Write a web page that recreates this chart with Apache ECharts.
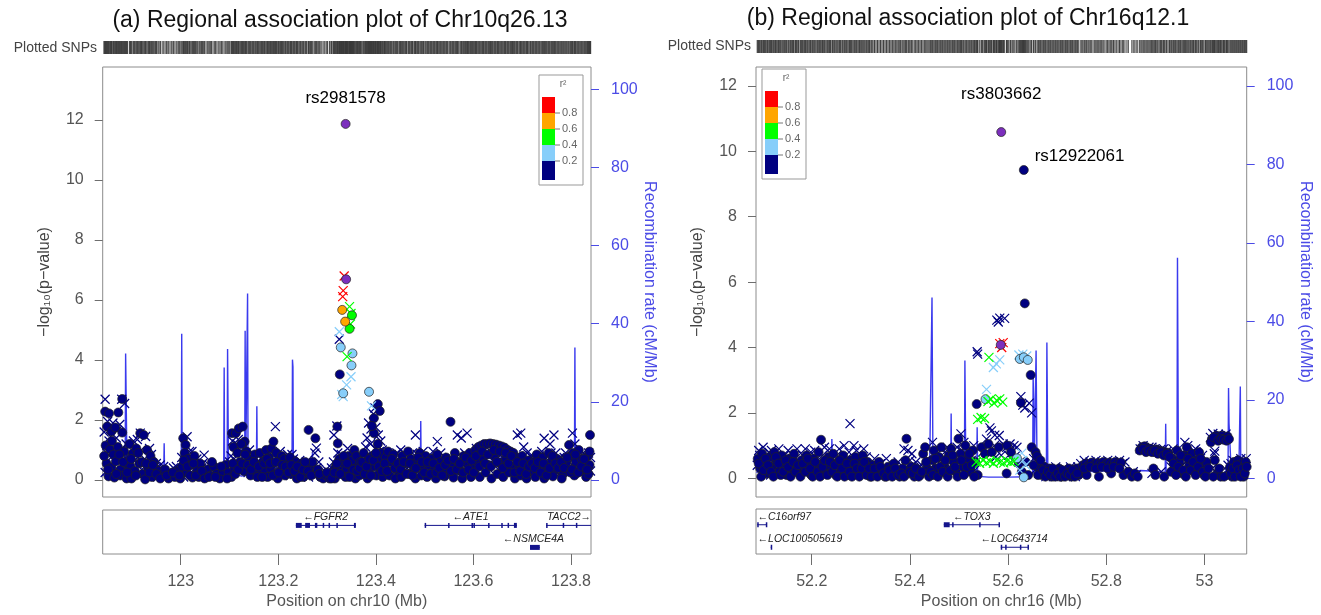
<!DOCTYPE html>
<html>
<head>
<meta charset="utf-8">
<title>Regional association plots</title>
<script src="https://cdn.jsdelivr.net/npm/echarts@6/dist/echarts.min.js"></script>
<style>
  html, body { margin: 0; padding: 0; background: #fff; }
  #chart { width: 1321px; height: 615px; }
</style>
</head>
<body>
<div id="chart"></div>
<script>
// ---- shared scales / legend ----
var r2Colors = ['#000080', '#87CEFA', '#00FF00', '#FFA500', '#FF0000'];   // 0-0.2 ... 0.8-1
var r2TickLabels = ['0.2', '0.4', '0.6', '0.8'];
var pTicks = [0, 2, 4, 6, 8, 10, 12];
var rateTicks = [0, 20, 40, 60, 80, 100];

// ---- (a) chr10 ----
var chr10Range = [122.84, 123.841];
var chr10Ticks = [123, 123.2, 123.4, 123.6, 123.8];
var chr10Lead = [[123.338, 11.87], [123.339, 6.69]];
var chr10LeadNames = ['rs2981578', ''];
var chr10RedX = [[123.335, 6.80], [123.333, 6.31], [123.332, 6.11]];
var chr10OrangeC = [[123.331, 5.67], [123.337, 5.28]];
var chr10GreenC = [[123.351, 5.49], [123.346, 5.04]];
var chr10GreenX = [[123.346, 5.78], [123.349, 5.55], [123.341, 4.11], [123.348, 5.2]];
var chr10BlueC = [[123.328, 4.42], [123.352, 4.22], [123.350, 3.82], [123.333, 2.89], [123.386, 2.94]];
var chr10BlueX = [[123.325, 4.94], [123.349, 3.44], [123.340, 3.17], [123.333, 2.78], [123.391, 2.47], [123.330, 2.85]];
var chr10NavyC = [
  [122.845,2.28],[122.853,2.22],[122.872,2.25],[122.849,1.78],[122.858,1.62],[122.866,1.75],[122.880,1.58],[122.846,1.15],[122.855,1.02],[122.862,0.85],[122.871,1.1],[122.884,0.95],[122.848,0.55],[122.858,0.42],[122.867,0.62],[122.877,0.35],[122.887,0.55],[122.852,0.12],[122.864,0.08],[122.876,0.15],[122.889,0.05],[122.880,2.7],
  [122.895,1.2],[122.902,0.9],[122.909,1.05],[122.917,1.56],[122.924,1.5],[122.931,1.0],[122.938,0.8],[122.945,0.6],[122.897,0.45],[122.906,0.3],[122.915,0.55],[122.922,0.2],[122.933,0.4],[122.941,0.1],[122.948,0.35],[122.899,0.05],[122.927,0.02],
  [122.955,0.3],[122.962,0.15],[122.968,0.35],[122.975,0.05],[122.981,0.2],[122.988,0.1],[122.994,0.3],[122.999,0.05],
  [123.005,1.39],[123.010,1.17],[123.008,0.9],[123.015,0.7],[123.021,0.5],[123.028,0.8],[123.034,0.3],[123.040,0.55],[123.046,0.2],[123.012,0.25],[123.024,0.08],[123.037,0.1],[123.003,0.45],
  [123.055,0.35],[123.061,0.15],[123.068,0.45],[123.074,0.2],[123.080,0.05],[123.086,0.3],[123.092,0.5],[123.098,0.25],[123.064,0.6],
  [123.105,1.56],[123.113,1.56],[123.119,1.72],[123.127,1.78],[123.131,1.28],[123.108,1.1],[123.116,0.9],[123.124,1.2],[123.135,0.95],[123.140,0.7],[123.146,0.5],[123.152,0.85],[123.110,0.4],[123.121,0.6],[123.129,0.3],[123.143,0.15],[123.155,0.3],[123.104,0.1],
  [123.162,0.9],[123.168,0.6],[123.175,1.0],[123.181,0.75],[123.186,1.05],[123.190,1.28],[123.196,0.9],[123.202,0.6],[123.207,0.8],[123.165,0.25],[123.172,0.35],[123.178,0.1],[123.184,0.4],[123.193,0.2],[123.199,0.05],[123.205,0.3],
  [123.212,0.7],[123.218,0.5],[123.224,0.75],[123.230,0.45],[123.236,0.6],[123.242,0.3],[123.248,0.55],[123.214,0.15],[123.226,0.2],[123.238,0.05],[123.252,0.1],[123.258,0.25],[123.264,0.4],[123.262,1.67],[123.276,1.39],[123.270,0.6],
  [123.281,0.35],[123.286,0.1],[123.292,0.05],[123.298,0.15],[123.305,0.05],[123.312,0.2],[123.318,0.45],[123.321,1.78],[123.322,1.22],[123.325,0.7],[123.316,0.05],[123.330,0.3],[123.326,3.52],
  [123.335,0.55],[123.340,0.35],[123.344,0.8],[123.348,0.5],[123.352,0.65],[123.356,1.0],[123.360,0.8],[123.364,0.45],[123.368,0.6],[123.338,0.1],[123.350,0.2],[123.358,0.05],[123.366,0.15],
  [123.396,2.06],[123.396,1.56],[123.404,2.53],[123.408,2.3],[123.392,1.8],[123.404,1.2],[123.375,0.9],[123.380,0.6],[123.386,0.3],[123.392,0.8],[123.398,0.45],[123.404,0.7],[123.410,0.9],[123.416,0.5],[123.420,0.75],[123.383,0.05],[123.401,0.15],[123.414,0.1],
  [123.425,0.95],[123.430,0.6],[123.436,0.85],[123.442,0.4],[123.448,0.2],[123.454,0.8],[123.460,0.55],[123.466,0.95],[123.472,0.7],[123.478,0.35],[123.484,0.6],[123.490,0.9],[123.496,0.45],[123.428,0.15],[123.440,0.05],[123.452,0.1],[123.469,0.2],[123.481,0.05],[123.493,0.15],
  [123.502,0.8],[123.508,0.5],[123.514,0.7],[123.520,0.35],[123.526,0.85],[123.532,0.6],[123.538,0.3],[123.544,0.75],[123.553,1.94],[123.556,0.5],[123.562,0.9],[123.568,0.6],[123.574,0.3],[123.580,0.8],[123.586,0.55],[123.592,0.9],[123.598,0.4],[123.505,0.1],[123.523,0.05],[123.541,0.12],[123.559,0.08],[123.577,0.05],[123.595,0.1],
  [123.604,1.0],[123.610,1.1],[123.616,1.15],[123.622,1.2],[123.628,1.2],[123.634,1.22],[123.640,1.2],[123.646,1.18],[123.652,1.15],[123.658,1.12],[123.664,1.08],[123.670,1.0],[123.676,0.95],[123.682,0.9],[123.607,0.6],[123.619,0.75],[123.631,0.5],[123.643,0.8],[123.655,0.55],[123.667,0.7],[123.679,0.45],[123.688,0.75],[123.694,0.5],[123.700,0.8],[123.706,0.4],[123.712,0.65],[123.718,0.3],[123.613,0.1],[123.625,0.25],[123.637,0.05],[123.649,0.2],[123.661,0.1],[123.673,0.25],[123.685,0.05],[123.697,0.15],[123.709,0.05],
  [123.724,0.6],[123.730,0.85],[123.736,0.5],[123.742,0.75],[123.748,0.35],[123.754,0.9],[123.760,0.6],[123.766,0.3],[123.772,0.7],[123.778,0.45],[123.784,0.2],[123.790,0.55],[123.796,1.17],[123.798,0.8],[123.727,0.1],[123.745,0.05],[123.763,0.12],[123.781,0.05],
  [123.804,0.9],[123.810,0.6],[123.816,1.0],[123.822,0.7],[123.828,0.4],[123.834,0.8],[123.839,1.5],[123.838,0.5],[123.807,0.15],[123.819,0.3],[123.831,0.1],[123.836,0.2],
  [122.843,0.8],[122.851,0.35],[122.859,1.3],[122.868,0.2],[122.874,0.85],[122.882,0.6],[122.890,0.25],[122.898,0.7],[122.908,0.15],[122.913,0.9],[122.920,0.6],[122.929,0.55],[122.936,0.25],[122.943,0.5],[122.950,0.2],[122.958,0.05],[122.971,0.15],[122.984,0.25],[122.997,0.15],
  [123.006,0.65],[123.014,0.45],[123.019,0.15],[123.026,0.55],[123.031,0.15],[123.043,0.3],[123.049,0.05],[123.058,0.1],[123.071,0.1],[123.083,0.45],[123.095,0.05],
  [123.107,0.55],[123.112,0.2],[123.118,0.35],[123.126,0.55],[123.132,0.85],[123.138,0.5],[123.144,0.35],[123.150,0.6],[123.157,0.1],
  [123.160,0.45],[123.167,0.1],[123.171,0.55],[123.177,0.7],[123.183,0.55],[123.189,0.15],[123.195,0.6],[123.201,0.25],[123.208,0.5],
  [123.215,0.45],[123.221,0.25],[123.227,0.5],[123.233,0.3],[123.239,0.45],[123.245,0.1],[123.251,0.35],[123.255,0.6],[123.261,0.3],[123.267,0.15],
  [123.284,0.2],[123.300,0.25],[123.309,0.05],[123.315,0.25],[123.320,0.55],[123.327,0.2],
  [123.334,0.8],[123.341,0.55],[123.346,0.1],[123.354,0.35],[123.362,0.3],[123.367,0.4],
  [123.372,0.6],[123.377,0.2],[123.381,0.45],[123.387,0.7],[123.390,0.15],[123.395,0.65],[123.400,0.9],[123.406,0.45],[123.412,0.3],[123.418,0.55],
  [123.423,0.3],[123.433,0.7],[123.439,0.4],[123.445,0.55],[123.451,0.35],[123.457,0.6],[123.463,0.2],[123.470,0.55],[123.475,0.15],[123.482,0.4],[123.487,0.75],[123.494,0.6],[123.499,0.25],
  [123.506,0.6],[123.512,0.2],[123.518,0.55],[123.524,0.25],[123.530,0.4],[123.536,0.15],[123.542,0.5],[123.548,0.65],[123.554,0.3],[123.560,0.7],[123.566,0.35],[123.572,0.55],[123.579,0.25],[123.584,0.75],[123.590,0.35],[123.596,0.65],
  [123.601,0.25],[123.605,0.8],[123.612,0.45],[123.618,0.95],[123.624,0.55],[123.630,0.85],[123.636,0.45],[123.642,1.0],[123.648,0.6],[123.654,0.95],[123.660,0.4],[123.666,0.9],[123.672,0.55],[123.678,0.8],[123.684,0.25],[123.690,0.6],[123.696,0.3],[123.702,0.55],[123.708,0.2],[123.714,0.45],[123.720,0.55],
  [123.726,0.4],[123.732,0.6],[123.738,0.25],[123.744,0.55],[123.750,0.15],[123.756,0.4],[123.762,0.8],[123.768,0.55],[123.774,0.4],[123.780,0.6],[123.786,0.4],[123.792,0.75],[123.799,0.25],
  [123.802,0.35],[123.809,0.85],[123.815,0.25],[123.821,0.45],[123.827,0.7],[123.833,0.35],[123.838,0.95]
];
var chr10NavyX = [
  [122.845,2.69],[122.879,2.69],[122.885,2.55],[122.850,1.95],[122.861,1.9],[122.875,1.85],[122.868,1.4],[122.853,1.3],[122.888,1.2],[122.857,0.75],[122.873,0.6],[122.883,0.3],[122.845,0.25],
  [122.917,1.56],[122.928,1.45],[122.903,1.3],[122.912,0.75],[122.936,1.05],[122.943,0.3],[122.920,0.35],[122.950,0.55],
  [122.958,0.5],[122.972,0.25],[122.985,0.4],[122.996,0.2],
  [123.013,1.44],[123.018,0.95],[123.030,0.55],[123.043,0.4],[123.006,0.1],[123.048,0.83],
  [123.058,0.5],[123.070,0.3],[123.083,0.15],[123.095,0.4],
  [123.106,1.3],[123.118,1.35],[123.114,0.45],[123.125,0.95],[123.133,0.6],[123.138,0.25],[123.149,0.8],[123.157,0.6],
  [123.163,0.5],[123.170,0.8],[123.177,0.45],[123.183,0.2],[123.194,1.78],[123.189,0.65],[123.197,0.35],[123.204,0.95],[123.209,0.15],
  [123.216,0.3],[123.222,0.55],[123.228,0.85],[123.234,0.2],[123.240,0.5],[123.246,0.25],[123.255,0.45],[123.266,0.2],
  [123.278,1.06],[123.275,0.9],[123.283,0.6],[123.289,0.25],[123.301,0.3],[123.309,0.4],[123.314,1.5],[123.320,1.8],[123.325,4.69],[123.322,0.9],[123.328,0.5],
  [123.337,0.75],[123.346,0.3],[123.354,0.85],[123.362,0.6],[123.369,0.35],[123.342,1.05],
  [123.385,1.9],[123.390,1.7],[123.395,2.2],[123.400,1.75],[123.405,1.5],[123.398,2.4],[123.410,1.3],[123.382,1.4],[123.378,0.75],[123.388,0.5],[123.407,0.95],[123.418,0.4],
  [123.423,0.7],[123.433,0.45],[123.445,0.7],[123.451,1.0],[123.458,0.3],[123.463,0.7],[123.475,0.9],[123.481,1.5],[123.487,0.3],[123.498,0.7],
  [123.511,0.4],[123.517,0.95],[123.526,1.28],[123.529,0.2],[123.535,0.75],[123.547,0.45],[123.565,0.75],[123.567,1.5],[123.575,1.4],[123.587,1.56],[123.583,0.3],[123.589,0.65],
  [123.601,0.8],[123.606,1.05],[123.620,0.95],[123.635,0.95],[123.650,0.9],[123.665,0.85],[123.680,0.75],[123.690,1.5],[123.697,1.56],[123.703,1.1],[123.710,0.9],[123.716,0.5],
  [123.721,0.8],[123.733,0.3],[123.740,0.95],[123.745,1.39],[123.751,0.6],[123.757,1.2],[123.765,1.5],[123.769,0.9],[123.775,0.2],[123.786,0.75],[123.792,0.35],
  [123.803,1.56],[123.808,1.2],[123.813,0.4],[123.825,0.9],[123.833,0.6],[123.840,0.3],
  [122.843,1.6],[122.848,0.9],[122.856,1.45],[122.863,0.3],[122.870,1.65],[122.878,1.0],[122.886,0.75],[122.891,0.4],[122.896,0.85],[122.905,0.65],[122.911,1.35],[122.919,1.0],[122.926,0.7],[122.934,0.2],[122.940,0.85],[122.947,0.15],[122.953,0.1],[122.965,0.45],[122.978,0.3],[122.991,0.45],
  [123.002,0.75],[123.009,0.5],[123.017,0.3],[123.023,0.95],[123.027,0.35],[123.033,0.7],[123.039,0.25],[123.045,0.55],[123.052,0.2],[123.063,0.35],[123.077,0.4],[123.089,0.2],[123.100,0.6],
  [123.103,0.8],[123.109,0.7],[123.115,1.2],[123.122,0.35],[123.128,1.05],[123.134,0.4],[123.141,1.0],[123.147,0.25],[123.153,0.45],[123.159,0.2],
  [123.166,0.7],[123.173,0.2],[123.180,0.95],[123.187,0.35],[123.192,0.5],[123.200,0.75],[123.206,0.45],
  [123.211,0.35],[123.219,0.85],[123.225,0.4],[123.231,0.7],[123.237,0.35],[123.244,0.65],[123.250,0.35],[123.257,0.6],[123.262,0.1],[123.268,0.35],
  [123.273,0.15],[123.279,0.4],[123.295,0.3],[123.306,0.2],[123.313,0.6],[123.317,0.3],[123.324,0.15],[123.329,0.85],
  [123.333,0.45],[123.339,0.6],[123.343,0.15],[123.349,0.7],[123.353,0.4],[123.357,0.55],[123.361,0.25],[123.365,0.85],[123.370,0.5],
  [123.374,0.35],[123.379,1.1],[123.384,0.8],[123.389,1.2],[123.393,0.55],[123.399,1.05],[123.403,0.3],[123.409,0.6],[123.413,1.0],[123.417,0.75],[123.421,0.25],
  [123.426,0.45],[123.431,0.85],[123.437,0.25],[123.443,0.9],[123.449,0.5],[123.455,0.35],[123.461,0.85],[123.467,0.45],[123.473,0.25],[123.479,0.65],[123.485,0.85],[123.491,0.4],[123.497,0.95],
  [123.503,0.35],[123.509,0.75],[123.515,0.25],[123.521,0.65],[123.527,0.4],[123.533,0.9],[123.539,0.55],[123.545,0.25],[123.551,0.7],[123.557,0.3],[123.563,0.45],[123.569,0.2],[123.576,0.6],[123.582,0.9],[123.588,0.25],[123.594,0.6],[123.599,0.75],
  [123.603,0.4],[123.609,0.85],[123.615,0.45],[123.621,0.6],[123.627,0.9],[123.633,0.35],[123.639,0.65],[123.645,0.45],[123.651,0.75],[123.657,0.35],[123.663,0.6],[123.669,0.4],[123.675,0.65],[123.681,0.3],[123.687,0.55],[123.693,0.8],[123.699,0.35],[123.705,0.65],[123.711,0.25],[123.717,0.8],
  [123.723,0.35],[123.729,0.55],[123.735,0.8],[123.741,0.25],[123.747,0.6],[123.753,0.4],[123.759,0.9],[123.765,0.5],[123.771,0.4],[123.777,0.75],[123.783,0.5],[123.789,0.9],[123.795,0.4],[123.801,0.65],
  [123.806,0.45],[123.812,0.8],[123.818,0.6],[123.824,0.25],[123.830,0.65],[123.836,0.9],[123.840,0.75]
];
var chr10Recomb = [
  [122.840,1.2],[122.850,1.5],[122.860,1.0],[122.870,1.3],[122.880,2.0],[122.886,2.0],[122.887,32.4],[122.889,32.4],[122.890,1.5],[122.900,1.0],[122.915,0.8],[122.930,1.2],[122.945,0.6],[122.960,0.8],[122.965,1.0],[122.966,9.4],[122.967,1.0],[122.980,0.5],[122.995,0.6],[123.001,0.8],[123.002,37.4],[123.003,0.8],[123.020,1.0],[123.040,0.9],[123.060,0.5],[123.080,0.8],[123.088,1.0],[123.089,28.8],[123.090,1.0],[123.095,1.2],[123.096,33.5],[123.097,33.5],[123.098,1.2],[123.110,1.5],[123.125,1.0],[123.131,1.2],[123.132,38.2],[123.133,1.5],[123.136,1.5],[123.137,47.7],[123.138,1.5],[123.145,1.0],[123.155,1.0],[123.156,18.9],[123.157,1.0],[123.175,1.2],[123.200,0.8],[123.220,1.0],[123.228,1.0],[123.229,30.8],[123.230,29.0],[123.231,1.0],[123.245,0.8],[123.260,1.0],[123.268,1.5],[123.270,6.9],[123.272,1.0],[123.290,0.8],[123.310,1.0],[123.325,0.5],[123.335,0.8],[123.340,1.2],[123.345,0.8],[123.350,4.5],[123.352,1.0],[123.358,0.8],[123.362,3.0],[123.365,0.5],[123.380,0.3],[123.400,0.5],[123.420,0.8],[123.450,1.0],[123.480,0.8],[123.491,1.0],[123.492,15.1],[123.493,1.0],[123.520,0.8],[123.550,1.0],[123.580,0.8],[123.600,1.2],[123.630,1.0],[123.660,1.5],[123.700,1.0],[123.740,1.2],[123.780,1.0],[123.800,1.5],[123.807,1.5],[123.808,33.9],[123.809,1.5],[123.820,1.2],[123.841,1.0]
];
var chr10Genes = [
  {name: 'FGFR2', start: 123.236, end: 123.359, row: 0, strand: -1, labelAt: 123.297,
   exons: [[123.236,123.248],[123.255,123.265],[123.275,123.280],[123.291,123.292],[123.303,123.304],[123.319,123.320],[123.355,123.359]]},
  {name: 'ATE1', start: 123.500, end: 123.689, row: 0, strand: -1, labelAt: 123.594,
   exons: [[123.500,123.5015],[123.548,123.5495],[123.596,123.5975],[123.600,123.6015],[123.630,123.6315],[123.657,123.6585],[123.670,123.6715],[123.683,123.689]]},
  {name: 'TACC2', start: 123.749, end: 123.841, row: 0, strand: 1, labelAt: 123.796,
   exons: [[123.749,123.7505],[123.783,123.7845],[123.810,123.8115]]},
  {name: 'NSMCE4A', start: 123.716, end: 123.736, row: 1, strand: -1, labelAt: 123.723,
   exons: [[123.716,123.736]]}
];

// ---- (b) chr16 ----
var chr16Range = [52.0865, 53.086];
var chr16Ticks = [52.2, 52.4, 52.6, 52.8, 53];
var chr16Lead = [[52.586, 10.59], [52.585, 4.08]];
var chr16LeadNames = ['rs3803662', ''];
var chr16Second = [[52.632, 9.43]];
var chr16SecondNames = ['rs12922061'];
var chr16RedX = [[52.583, 4.12], [52.587, 4.0], [52.590, 4.15]];
var chr16GreenX = [
  [52.561,3.7],[52.559,2.35],[52.565,2.42],[52.571,2.3],[52.577,2.38],[52.583,2.43],[52.589,2.33],[52.538,1.8],[52.545,1.86],[52.552,1.83],
  [52.535,0.5],[52.542,0.46],[52.549,0.55],[52.556,0.48],[52.563,0.52],[52.570,0.46],[52.577,0.54],[52.584,0.5],[52.591,0.47],[52.598,0.53],[52.605,0.49],[52.612,0.52]
];
var chr16BlueC = [[52.624,3.65],[52.632,3.7],[52.640,3.62],[52.554,2.42],[52.618,0.61],[52.632,0.03]];
var chr16BlueX = [[52.583,3.62],[52.570,3.39],[52.576,3.5],[52.622,3.77],[52.630,3.8],[52.638,3.74],[52.556,2.72],[52.628,0.77],[52.624,0.25],[52.636,0.4],[52.630,0.55]];
var chr16NavyC = [
  [52.090,0.6],[52.095,0.3],[52.099,0.75],[52.104,0.45],[52.109,0.15],[52.114,0.65],[52.119,0.35],[52.124,0.8],[52.129,0.5],[52.134,0.2],[52.139,0.7],[52.144,0.4],[52.149,0.1],[52.154,0.6],[52.159,0.3],[52.164,0.75],[52.169,0.45],[52.174,0.15],[52.179,0.55],[52.184,0.3],[52.189,0.7],[52.194,0.4],[52.199,0.1],[52.204,0.6],
  [52.209,0.35],[52.214,0.8],[52.219,1.18],[52.224,0.5],[52.229,0.2],[52.234,0.65],[52.239,0.35],[52.244,0.75],[52.249,0.1],[52.254,0.5],[52.259,0.25],[52.264,0.7],[52.269,0.4],[52.274,0.1],[52.279,0.55],[52.284,0.3],[52.289,0.65],[52.294,0.15],[52.299,0.45],[52.304,0.7],[52.309,0.25],[52.314,0.5],[52.319,0.05],
  [52.325,0.4],[52.331,0.15],[52.337,0.5],[52.343,0.25],[52.349,0.05],[52.355,0.35],[52.361,0.15],[52.367,0.45],[52.373,0.2],[52.379,0.05],
  [52.393,1.21],[52.391,0.55],[52.385,0.3],[52.397,0.15],[52.403,0.35],[52.409,0.05],[52.415,0.25],[52.421,0.1],[52.427,0.75],[52.431,0.95],[52.435,0.3],[52.439,0.05],
  [52.444,0.55],[52.449,0.85],[52.454,0.3],[52.459,0.65],[52.464,0.95],[52.469,0.4],[52.474,0.15],[52.479,0.7],[52.484,0.9],[52.489,0.5],[52.494,0.2],[52.499,1.21],[52.503,0.75],[52.508,0.35],[52.513,1.0],[52.518,0.6],[52.523,0.2],[52.528,0.85],[52.533,0.5],[52.536,2.27],[52.538,0.1],
  [52.546,0.95],[52.553,0.75],[52.560,1.05],[52.567,0.8],[52.581,0.95],[52.597,0.15],[52.598,1.0],[52.606,0.8],[52.626,2.31],[52.646,3.16],[52.634,5.35],[52.622,0.45],[52.628,0.2],[52.636,0.5],[52.641,0.1],
  [52.648,0.95],[52.656,0.8],[52.659,0.68],[52.664,0.3],[52.669,0.1],[52.674,0.35],[52.679,0.15],[52.684,0.3],[52.689,0.05],[52.694,0.25],[52.699,0.1],[52.704,0.3],[52.709,0.05],[52.714,0.2],[52.719,0.1],[52.724,0.3],[52.729,0.05],[52.734,0.2],[52.739,0.3],[52.744,0.1],
  [52.752,0.4],[52.758,0.45],[52.764,0.4],[52.770,0.48],[52.776,0.42],[52.782,0.47],[52.788,0.45],[52.794,0.5],[52.800,0.44],[52.806,0.48],[52.812,0.45],[52.818,0.5],[52.824,0.46],[52.830,0.48],[52.760,0.1],[52.785,0.05],[52.810,0.15],[52.835,0.1],
  [52.845,0.2],[52.852,0.05],[52.858,0.15],[52.864,0.05],[52.872,0.95],[52.878,0.98],[52.884,0.92],[52.890,0.9],[52.896,0.3],[52.902,0.88],[52.908,0.85],[52.914,0.82],[52.920,0.8],[52.926,0.78],[52.900,0.1],[52.918,0.05],
  [52.934,0.6],[52.939,0.3],[52.944,0.85],[52.949,0.5],[52.954,0.15],[52.959,0.7],[52.964,0.95],[52.969,0.4],[52.974,0.75],[52.979,0.2],[52.984,0.55],[52.989,0.8],[52.994,0.35],[52.999,0.1],[53.004,0.5],
  [53.015,1.2],[53.021,0.55],[53.025,1.3],[53.030,1.25],[53.036,1.3],[53.042,1.22],[53.047,1.28],[53.026,0.15],[53.033,0.05],
  [53.052,0.35],[53.056,0.05],[53.060,0.5],[53.064,0.2],[53.068,0.55],[53.072,0.1],[53.076,0.45],[53.080,0.05],[53.084,0.5],
  [52.092,0.45],[52.097,0.05],[52.102,0.25],[52.106,0.6],[52.111,0.4],[52.117,0.2],[52.122,0.05],[52.127,0.65],[52.132,0.45],[52.137,0.1],[52.142,0.2],[52.147,0.55],[52.152,0.35],[52.157,0.05],[52.162,0.5],[52.167,0.2],[52.172,0.4],[52.177,0.05],[52.182,0.45],[52.187,0.2],[52.192,0.6],[52.197,0.3],[52.202,0.05],
  [52.207,0.5],[52.212,0.2],[52.217,0.05],[52.222,0.35],[52.227,0.55],[52.232,0.1],[52.237,0.5],[52.242,0.2],[52.247,0.4],[52.252,0.05],[52.257,0.55],[52.262,0.3],[52.267,0.05],[52.272,0.45],[52.277,0.2],[52.282,0.05],[52.287,0.45],[52.292,0.3],[52.297,0.05],[52.302,0.3],[52.307,0.5],[52.312,0.1],[52.317,0.3],
  [52.322,0.05],[52.328,0.3],[52.334,0.05],[52.340,0.35],[52.346,0.15],[52.352,0.05],[52.358,0.25],[52.364,0.05],[52.370,0.3],[52.376,0.1],
  [52.382,0.15],[52.388,0.05],[52.400,0.2],[52.406,0.15],[52.412,0.3],[52.418,0.05],[52.424,0.2],[52.433,0.5],[52.442,0.2],
  [52.447,0.1],[52.452,0.6],[52.457,0.05],[52.462,0.35],[52.467,0.2],[52.472,0.55],[52.477,0.05],[52.482,0.25],[52.487,0.7],[52.492,0.35],[52.497,0.05],[52.505,0.55],[52.510,0.1],[52.516,0.35],[52.521,0.75],[52.526,0.4],[52.531,0.05],
  [52.652,0.4],[52.661,0.1],[52.666,0.55],[52.671,0.25],[52.676,0.05],[52.681,0.2],[52.686,0.1],[52.691,0.3],[52.696,0.05],[52.701,0.15],[52.706,0.05],[52.711,0.25],[52.716,0.05],[52.721,0.15],[52.726,0.1],[52.731,0.25],[52.736,0.05],[52.741,0.15],
  [52.755,0.3],[52.767,0.35],[52.779,0.3],[52.791,0.35],[52.803,0.3],[52.815,0.35],[52.827,0.3],
  [52.868,0.85],[52.875,0.9],[52.881,0.8],[52.887,0.85],[52.893,0.8],[52.899,0.85],[52.905,0.75],[52.911,0.8],[52.917,0.7],[52.923,0.75],[52.929,0.65],
  [52.932,0.2],[52.937,0.45],[52.942,0.1],[52.947,0.35],[52.952,0.7],[52.957,0.25],[52.962,0.05],[52.967,0.6],[52.972,0.25],[52.977,0.5],[52.982,0.1],[52.987,0.35],[52.992,0.6],[52.997,0.2],[53.002,0.05],[53.008,0.3],
  [53.013,1.1],[53.019,1.25],[53.028,1.15],[53.034,1.2],[53.039,1.18],[53.045,1.15],[53.050,1.2],[53.018,0.05],[53.030,0.3],[53.040,0.05],
  [53.054,0.15],[53.058,0.3],[53.062,0.05],[53.066,0.4],[53.070,0.25],[53.074,0.05],[53.078,0.3],[53.082,0.15],[53.086,0.35]
];
var chr16NavyX = [
  [52.092,0.85],[52.101,0.95],[52.110,0.5],[52.118,0.85],[52.127,0.25],[52.133,0.9],[52.141,0.55],[52.152,0.85],[52.161,0.6],[52.170,0.9],[52.178,0.35],[52.187,0.9],[52.196,0.6],
  [52.206,0.85],[52.216,0.5],[52.226,0.95],[52.236,0.9],[52.246,0.55],[52.256,0.9],[52.266,1.0],[52.278,1.67],[52.276,0.8],[52.286,1.0],[52.296,0.6],[52.306,0.9],[52.316,0.35],
  [52.328,0.6],[52.340,0.45],[52.352,0.6],[52.364,0.3],[52.376,0.5],
  [52.388,0.9],[52.396,0.85],[52.404,0.75],[52.412,0.5],[52.424,0.4],[52.437,0.6],
  [52.446,1.1],[52.456,0.75],[52.466,0.6],[52.476,0.95],[52.486,0.55],[52.496,0.95],[52.504,1.36],[52.510,1.1],[52.520,0.8],[52.530,1.0],
  [52.537,3.87],[52.538,3.8],[52.577,4.84],[52.583,4.9],[52.593,4.89],[52.580,4.78],[52.563,1.54],[52.573,1.32],[52.566,1.45],[52.582,1.31],[52.590,1.05],[52.597,0.95],[52.604,1.05],[52.612,1.0],[52.618,0.95],[52.548,0.8],[52.556,1.2],[52.572,1.0],[52.586,0.7],
  [52.626,2.5],[52.630,2.24],[52.634,2.15],[52.643,2.3],[52.648,2.0],
  [52.652,0.6],[52.667,0.35],[52.682,0.2],[52.697,0.35],[52.712,0.3],[52.727,0.35],[52.742,0.35],[52.748,0.45],
  [52.755,0.55],[52.767,0.5],[52.779,0.55],[52.791,0.5],[52.803,0.55],[52.815,0.5],[52.827,0.55],[52.838,0.5],
  [52.875,1.0],[52.887,0.95],[52.899,0.9],[52.911,0.88],[52.923,0.82],
  [52.936,0.9],[52.946,0.6],[52.960,1.1],[52.966,1.0],[52.978,0.85],[52.992,0.6],[53.002,0.3],
  [53.017,1.37],[53.028,1.35],[53.040,1.3],[53.021,0.83],[53.020,0.75],[53.048,0.4],
  [53.058,0.55],[53.066,0.35],[53.074,0.6],[53.082,0.3],
  [52.089,0.4],[52.094,0.7],[52.098,0.15],[52.103,0.6],[52.107,0.3],[52.113,0.8],[52.116,0.1],[52.121,0.55],[52.126,0.6],[52.131,0.35],[52.136,0.55],[52.145,0.7],[52.148,0.3],[52.156,0.45],[52.163,0.25],[52.167,0.6],[52.173,0.55],[52.181,0.7],[52.185,0.15],[52.191,0.5],[52.198,0.8],[52.202,0.3],
  [52.211,0.6],[52.219,0.25],[52.222,0.7],[52.231,0.45],[52.238,0.6],[52.242,0.25],[52.251,0.7],[52.258,0.45],[52.262,0.15],[52.271,0.6],[52.281,0.4],[52.291,0.85],[52.298,0.25],[52.302,0.55],[52.311,0.65],[52.318,0.25],
  [52.323,0.2],[52.334,0.35],[52.346,0.15],[52.358,0.25],[52.370,0.35],[52.381,0.2],[52.392,0.35],[52.400,0.55],[52.418,0.35],[52.430,0.2],[52.441,0.3],
  [52.451,0.45],[52.461,0.25],[52.471,0.8],[52.481,0.35],[52.491,0.7],[52.501,0.5],[52.506,0.85],[52.515,0.3],[52.525,0.55],[52.532,0.25],
  [52.575,0.65],[52.601,0.7],[52.609,0.55],[52.616,0.7],
  [52.655,0.25],[52.662,0.15],[52.672,0.2],[52.677,0.05],[52.687,0.15],[52.692,0.05],[52.702,0.2],[52.707,0.15],[52.717,0.05],[52.722,0.2],[52.732,0.15],[52.737,0.05],
  [52.750,0.3],[52.761,0.45],[52.773,0.4],[52.785,0.45],[52.797,0.4],[52.809,0.45],[52.821,0.42],[52.833,0.45],[52.842,0.1],[52.855,0.2],[52.861,0.1],
  [52.869,0.9],[52.881,0.88],[52.893,0.95],[52.905,0.8],[52.917,0.9],[52.929,0.7],[52.893,0.15],[52.912,0.2],
  [52.932,0.35],[52.941,0.6],[52.951,0.35],[52.956,0.8],[52.962,0.5],[52.971,0.7],[52.976,0.3],[52.982,0.9],[52.987,0.4],[52.996,0.7],[53.006,0.2],[53.010,0.45],
  [53.012,1.25],[53.023,1.25],[53.033,1.3],[53.044,1.35],[53.016,0.3],[53.038,0.1],[53.045,0.25],
  [53.054,0.45],[53.062,0.4],[53.070,0.5],[53.078,0.35],[53.085,0.6]
];
var chr16Recomb = [
  [52.087,1.5],[52.100,2.0],[52.120,1.2],[52.140,1.5],[52.160,1.0],[52.180,1.5],[52.200,1.2],[52.220,1.8],[52.240,1.5],[52.241,10.0],[52.243,1.5],[52.260,1.2],[52.280,1.0],[52.300,1.5],[52.320,1.0],[52.340,0.8],[52.360,1.2],[52.380,1.0],[52.400,3.0],[52.402,1.0],[52.420,1.2],[52.440,1.0],[52.444,1.0],[52.445,46.1],[52.446,46.1],[52.447,1.0],[52.460,1.5],[52.470,1.0],[52.483,1.0],[52.484,16.5],[52.485,1.0],[52.500,1.0],[52.511,1.0],[52.512,30.0],[52.513,30.0],[52.514,1.0],[52.530,0.8],[52.536,1.0],[52.537,13.0],[52.538,0.5],[52.560,0.3],[52.600,0.3],[52.640,0.4],[52.650,1.0],[52.651,25.8],[52.652,20.0],[52.653,1.0],[52.656,1.0],[52.657,32.6],[52.658,32.6],[52.659,1.0],[52.678,1.0],[52.679,34.6],[52.680,34.6],[52.681,1.0],[52.700,0.8],[52.720,1.5],[52.740,1.2],[52.760,2.0],[52.780,1.5],[52.800,2.0],[52.830,2.0],[52.850,1.5],[52.870,2.0],[52.900,1.8],[52.920,1.5],[52.921,13.9],[52.922,1.5],[52.935,1.0],[52.944,1.0],[52.945,56.2],[52.946,56.2],[52.947,1.0],[52.960,1.5],[52.980,1.0],[52.990,1.0],[52.991,8.0],[52.992,1.0],[53.010,0.8],[53.020,1.5],[53.040,1.2],[53.048,2.0],[53.049,23.0],[53.050,14.0],[53.052,14.0],[53.054,3.0],[53.060,3.0],[53.070,1.5],[53.072,1.5],[53.073,23.4],[53.074,1.5],[53.086,1.0]
];
var chr16Genes = [
  {name: 'C16orf97', start: 52.089, end: 52.108, row: 0, strand: -1, labelAt: 52.144,
   exons: [[52.089,52.0905],[52.1065,52.108]]},
  {name: 'TOX3', start: 52.469, end: 52.582, row: 0, strand: -1, labelAt: 52.526,
   exons: [[52.469,52.481],[52.486,52.4875],[52.541,52.5425],[52.5805,52.582]]},
  {name: 'LOC100505619', start: 52.1165, end: 52.1185, row: 1, strand: -1, labelAt: 52.176,
   exons: [[52.1165,52.1185]]},
  {name: 'LOC643714', start: 52.585, end: 52.641, row: 1, strand: -1, labelAt: 52.612,
   exons: [[52.585,52.5865],[52.594,52.5955],[52.624,52.6255],[52.6395,52.641]]}
];

// ---- styling ----
var FONT = "'Liberation Sans', Arial, sans-serif";
var boxColor = '#8c8c8c';
var tickColor = '#6e6e6e';
var textGrey = '#555555';
var rateBlue = '#4b4be6';
var lineBlue = '#3a3aee';
var geneBlue = '#14148c';
var leadPurple = '#7c2fbd';
var crossPath = 'path://M0,0L10,10M10,0L0,10';

function circles(data, color, xi, yi) {
  return {
    type: 'scatter', xAxisIndex: xi, yAxisIndex: yi, data: data, silent: true,
    symbol: 'circle', symbolSize: 9,
    itemStyle: {color: color, borderColor: '#222', borderWidth: 0.7, opacity: 1}
  };
}

function crosses(data, color, xi, yi) {
  return {
    type: 'scatter', xAxisIndex: xi, yAxisIndex: yi, data: data, silent: true,
    symbol: crossPath, symbolSize: 9,
    itemStyle: {color: color, borderColor: color, borderWidth: 1.2, opacity: 1}
  };
}

function labelled(points, names, color, xi, yi, labelOpt) {
  var s = circles(points.map(function(p, i) {
    return {value: p, name: names[i], label: {show: !!names[i]}};
  }), color, xi, yi);
  s.label = Object.assign({formatter: '{b}', color: '#000', fontSize: 17, fontFamily: FONT}, labelOpt);
  s.z = 5;
  return s;
}

function geneRenderer(genes) {
  return function(params, api) {
    var g = genes[params.dataIndex];
    var yRow = g.row + 0.7;
    var p0 = api.coord([g.start, yRow]);
    var p1 = api.coord([g.end, yRow]);
    var kids = [{
      type: 'line', shape: {x1: p0[0], y1: p0[1], x2: p1[0], y2: p1[1]},
      style: {stroke: geneBlue, lineWidth: 1}
    }];
    g.exons.forEach(function(e) {
      var a = api.coord([e[0], yRow]), b = api.coord([e[1], yRow]);
      kids.push({
        type: 'rect', shape: {x: a[0], y: a[1] - 2.5, width: Math.max(b[0] - a[0], 1.5), height: 5},
        style: {fill: geneBlue}
      });
    });
    var lp = api.coord([g.labelAt, yRow]);
    var txt = g.strand < 0 ? '\u2190' + g.name : g.name + '\u2192';
    kids.push({
      type: 'text', x: lp[0], y: lp[1] - 8,
      style: {text: txt, fill: '#222', font: 'italic 10.5px ' + FONT,
              align: 'center', verticalAlign: 'middle', textAlign: 'center', textVerticalAlign: 'middle'}
    });
    return {type: 'group', children: kids};
  };
}

function legendGraphics(left, top) {
  var els = [{
    type: 'rect', z: 100, shape: {x: left, y: top, width: 44, height: 110},
    style: {fill: '#fff', stroke: '#999', lineWidth: 1}
  }, {
    type: 'text', z: 101, x: left + 24, y: top + 9,
    style: {text: 'r\u00b2', fill: '#666', font: '10px ' + FONT,
            align: 'center', verticalAlign: 'middle', textAlign: 'center', textVerticalAlign: 'middle'}
  }];
  for (var i = 0; i < 5; i++) {
    els.push({
      type: 'rect', z: 101, shape: {x: left + 3, y: top + 22 + i * 16, width: 13, height: i === 4 ? 19 : 16},
      style: {fill: r2Colors[4 - i]}
    });
  }
  for (var k = 0; k < 4; k++) {
    var yy = top + 22 + (k + 1) * 16;
    els.push({
      type: 'line', z: 101, shape: {x1: left + 16, y1: yy, x2: left + 21, y2: yy},
      style: {stroke: '#777', lineWidth: 1}
    });
    els.push({
      type: 'text', z: 101, x: left + 23, y: yy,
      style: {text: r2TickLabels[3 - k], fill: '#666', font: '11px ' + FONT,
              align: 'left', verticalAlign: 'middle', textAlign: 'left', textVerticalAlign: 'middle'}
    });
  }
  return els;
}

function buildPanel(cfg, gi, xi, yi) {
  var hidden = {show: false};
  var grids = [
    {left: cfg.left, top: cfg.rugTop, width: cfg.width, height: 13, outerBoundsMode: 'none'},
    {left: cfg.left, top: 67, width: cfg.width, height: 430, show: true, borderColor: boxColor, borderWidth: 1, outerBoundsMode: 'none'},
    {left: cfg.left, top: cfg.geneTop, width: cfg.width, height: cfg.geneHeight, show: true, borderColor: boxColor, borderWidth: 1, outerBoundsMode: 'none'}
  ];
  var xAxes = [
    {gridIndex: gi, type: 'value', min: cfg.xRange[0], max: cfg.xRange[1], show: false},
    {gridIndex: gi + 1, type: 'value', min: cfg.xRange[0], max: cfg.xRange[1],
     axisLine: hidden, axisTick: hidden, axisLabel: hidden, splitLine: hidden},
    {gridIndex: gi + 2, type: 'value', position: 'bottom', min: cfg.xRange[0], max: cfg.xRange[1],
     axisLine: {show: false, onZero: false},
     axisTick: {show: true, length: 11, customValues: cfg.xTicks, lineStyle: {color: tickColor}},
     axisLabel: {customValues: cfg.xTicks, fontSize: 16, color: textGrey, margin: 20},
     splitLine: hidden,
     name: cfg.xName, nameLocation: 'middle', nameGap: 40,
     nameTextStyle: {fontSize: 16, color: textGrey}}
  ];
  var yAxes = [
    {gridIndex: gi, type: 'value', min: -1, max: 1, show: false},
    {gridIndex: gi + 1, type: 'value', position: 'left', min: cfg.pRange[0], max: cfg.pRange[1],
     axisLine: {show: false, onZero: false},
     axisTick: {show: true, length: 8, customValues: pTicks, lineStyle: {color: tickColor}},
     axisLabel: {customValues: pTicks, fontSize: 16, color: textGrey, margin: 19},
     splitLine: hidden,
     name: '\u2212log\u2081\u2080(p\u2212value)', nameLocation: 'middle', nameGap: 50,
     nameTextStyle: {fontSize: 16, color: '#444'}},
    {gridIndex: gi + 1, type: 'value', position: 'right', min: cfg.rateRange[0], max: cfg.rateRange[1],
     axisLine: {show: false, onZero: false},
     axisTick: {show: true, length: 8, customValues: rateTicks, lineStyle: {color: rateBlue}},
     axisLabel: {customValues: rateTicks, fontSize: 16, color: rateBlue, margin: 20},
     splitLine: hidden,
     name: 'Recombination rate (cM/Mb)', nameLocation: 'middle', nameRotate: -90, nameGap: 49,
     nameTextStyle: {fontSize: 16, color: rateBlue}},
    {gridIndex: gi + 2, type: 'value', min: 0, max: 2, inverse: true, show: false}
  ];

  var allPts = [].concat(cfg.navyX, cfg.navyC, cfg.blueX, cfg.blueC, cfg.greenX, cfg.greenC || [],
                         cfg.orangeC || [], cfg.redX, cfg.lead, cfg.second || []);
  var rug = allPts.map(function(p) { return [p[0], 0]; });

  var series = [
    {type: 'scatter', xAxisIndex: xi, yAxisIndex: yi, data: rug, silent: true,
     symbol: 'rect', symbolSize: [1.2, 13], itemStyle: {color: '#3a3a3a'}},
    {type: 'line', xAxisIndex: xi + 1, yAxisIndex: yi + 2, data: cfg.recomb, silent: true,
     symbol: 'none', showSymbol: false, z: 1, lineStyle: {color: lineBlue, width: 1.4}},
    crosses(cfg.navyX, r2Colors[0], xi + 1, yi + 1),
    circles(cfg.navyC, r2Colors[0], xi + 1, yi + 1),
    crosses(cfg.blueX, r2Colors[1], xi + 1, yi + 1),
    circles(cfg.blueC, r2Colors[1], xi + 1, yi + 1),
    crosses(cfg.greenX, r2Colors[2], xi + 1, yi + 1)
  ];
  if (cfg.greenC) series.push(circles(cfg.greenC, r2Colors[2], xi + 1, yi + 1));
  if (cfg.orangeC) series.push(circles(cfg.orangeC, r2Colors[3], xi + 1, yi + 1));
  series.push(crosses(cfg.redX, r2Colors[4], xi + 1, yi + 1));
  series.push(labelled(cfg.lead, cfg.leadNames, leadPurple, xi + 1, yi + 1, cfg.leadLabel));
  if (cfg.second) {
    series.push(labelled(cfg.second, cfg.secondNames, r2Colors[0], xi + 1, yi + 1, cfg.secondLabel));
  }
  series.push({
    type: 'custom', xAxisIndex: xi + 2, yAxisIndex: yi + 3, silent: true,
    data: cfg.genes.map(function(g) { return [g.start, g.row]; }),
    encode: {x: 0, y: 1},
    renderItem: geneRenderer(cfg.genes)
  });

  return {grids: grids, xAxes: xAxes, yAxes: yAxes, series: series};
}

var panelA = buildPanel({
  left: 102.7, width: 488.3, rugTop: 41, geneTop: 510, geneHeight: 44,
  xRange: chr10Range, xTicks: chr10Ticks, xName: 'Position on chr10 (Mb)',
  pRange: [-0.567, 13.767], rateRange: [-4.35, 105.7],
  navyX: chr10NavyX, navyC: chr10NavyC, blueX: chr10BlueX, blueC: chr10BlueC,
  greenX: chr10GreenX, greenC: chr10GreenC, orangeC: chr10OrangeC, redX: chr10RedX,
  lead: chr10Lead, leadNames: chr10LeadNames,
  leadLabel: {position: 'top', distance: 12},
  recomb: chr10Recomb, genes: chr10Genes
}, 0, 0, 0);

var panelB = buildPanel({
  left: 756, width: 490.7, rugTop: 40, geneTop: 509, geneHeight: 45,
  xRange: chr16Range, xTicks: chr16Ticks, xName: 'Position on chr16 (Mb)',
  pRange: [-0.572, 12.58], rateRange: [-4.77, 104.84],
  navyX: chr16NavyX, navyC: chr16NavyC, blueX: chr16BlueX, blueC: chr16BlueC,
  greenX: chr16GreenX, redX: chr16RedX,
  lead: chr16Lead, leadNames: chr16LeadNames,
  leadLabel: {position: 'top', distance: 24},
  second: chr16Second, secondNames: chr16SecondNames,
  secondLabel: {position: 'right', distance: 6, offset: [0, -14]},
  recomb: chr16Recomb, genes: chr16Genes
}, 3, 3, 4);

var titleStyle = {fill: '#111', font: '23px ' + FONT, align: 'center', verticalAlign: 'middle',
                  textAlign: 'center', textVerticalAlign: 'middle'};
var snpStyle = {fill: '#444', font: '14px ' + FONT, align: 'right', verticalAlign: 'middle',
                textAlign: 'right', textVerticalAlign: 'middle'};

var option = {
  animation: false,
  backgroundColor: '#fff',
  textStyle: {fontFamily: FONT},
  grid: panelA.grids.concat(panelB.grids),
  xAxis: panelA.xAxes.concat(panelB.xAxes),
  yAxis: panelA.yAxes.concat(panelB.yAxes),
  series: panelA.series.concat(panelB.series),
  graphic: [
    {type: 'text', x: 340, y: 21, style: Object.assign({text: '(a) Regional association plot of Chr10q26.13'}, titleStyle)},
    {type: 'text', x: 968, y: 19, style: Object.assign({text: '(b) Regional association plot of Chr16q12.1'}, titleStyle)},
    {type: 'text', x: 97, y: 48, style: Object.assign({text: 'Plotted SNPs'}, snpStyle)},
    {type: 'text', x: 751, y: 46, style: Object.assign({text: 'Plotted SNPs'}, snpStyle)}
  ].concat(legendGraphics(539, 75), legendGraphics(762, 69))
};

var chart = echarts.init(document.getElementById('chart'));
chart.setOption(option);
</script>
</body>
</html>
